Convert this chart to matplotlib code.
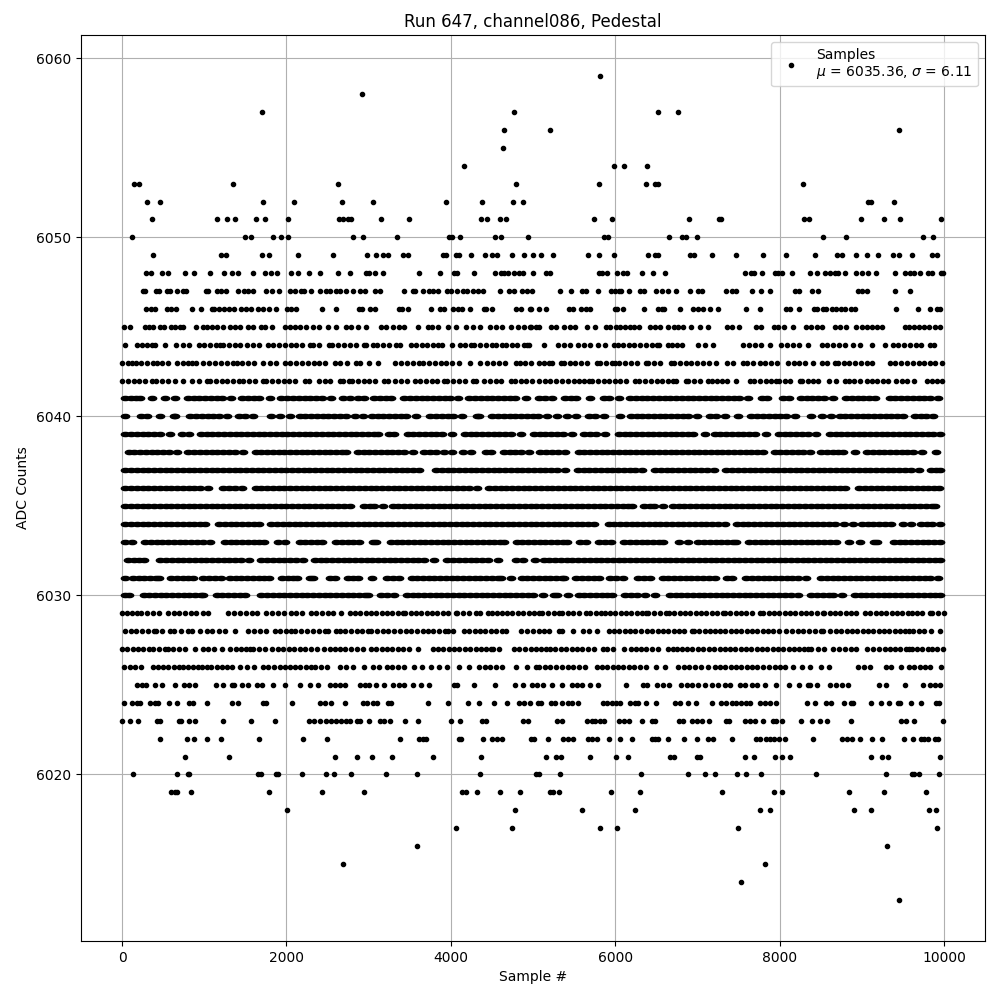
import numpy as np
import matplotlib
matplotlib.use("Agg")
import matplotlib.pyplot as plt
from matplotlib.markers import MarkerStyle
from matplotlib.transforms import Affine2D

# sample numbers, one list per ADC level
s_6013 = [9449]
s_6014 = [7535]
s_6015 = [2687, 7826]
s_6016 = [3583, 9305]
s_6017 = [4068, 4747, 5814, 6020, 7499, 9917]
s_6018 = [2008, 4783, 5596, 6238, 7766, 7887, 8900, 9110, 9815, 9900]
s_6019 = [590, 640, 667, 844, 1790, 2432, 2941, 4141, 4181, 4323, 4601, 4844, 5212, 5240, 5317, 5947, 6299, 7293, 7935, 8032, 8840, 9265, 9780]
s_6020 = [129, 663, 796, 820, 1656, 1685, 1875, 1899, 2190, 2481, 2578, 2784, 3208, 3583, 4359, 5042, 5070, 5329, 6311, 6881, 7087, 7208, 7487, 7596, 7778, 8440, 9290, 9605, 9640, 9690, 9945]
s_6021 = [760, 1305, 2590, 2856, 3038, 3280, 3777, 4371, 5160, 5281, 5342, 5693, 6008, 6153, 6663, 6711, 6993, 7026, 7580, 7689, 7947, 8032, 8130, 9110, 9245, 9320, 9950]
s_6022 = [457, 784, 869, 1038, 1208, 1669, 2202, 2493, 3377, 3608, 3656, 3697, 4100, 4120, 4396, 4505, 4565, 4626, 4970, 5010, 5184, 5366, 5422, 5487, 5669, 5717, 5778, 5927, 6057, 6210, 6444, 6485, 6525, 6638, 6832, 6990, 7123, 7184, 7426, 7717, 7766, 7830, 7879, 7927, 7988, 8069, 8411, 8753, 8815, 8875, 8973, 9120, 9240, 9510, 9620, 9715, 9755, 9800, 9895, 9930]
s_6023 = [0, 93, 190, 424, 465, 687, 715, 808, 881, 1232, 1572, 1862, 2275, 2331, 2404, 2485, 2545, 2606, 2658, 2727, 2776, 2856, 2889, 3002, 3139, 3192, 3264, 3438, 3596, 3996, 4117, 4384, 4432, 4880, 4941, 5293, 5354, 5657, 5717, 5758, 5818, 5859, 6040, 6101, 6166, 6323, 6452, 6485, 6780, 6820, 6929, 6990, 7050, 7135, 7353, 7385, 7576, 7636, 7697, 7802, 7920, 7960, 8032, 8264, 8398, 8496, 8578, 8863, 9475, 9535, 9640, 9985]
s_6024 = [20, 121, 182, 222, 335, 404, 436, 574, 663, 820, 861, 1038, 1341, 1414, 1709, 1757, 2068, 2412, 2464, 2537, 2711, 2929, 2982, 3050, 3103, 3232, 3272, 3717, 3971, 4214, 4347, 4529, 4686, 4828, 4888, 4957, 5060, 5099, 5224, 5273, 5354, 5422, 5475, 5548, 5846, 5899, 5960, 6008, 6061, 6178, 6242, 6283, 6372, 6497, 6727, 6788, 6881, 6978, 7172, 7281, 7353, 7422, 7475, 7535, 7596, 7636, 7766, 7818, 7879, 7960, 8338, 8436, 8570, 8630, 8780, 8865, 8895, 9110, 9230, 9330, 9440, 9470, 9600, 9720, 9900, 9945]
s_6025 = [182, 242, 295, 396, 481, 638, 755, 820, 893, 1143, 1224, 1333, 1361, 1454, 1535, 1636, 1697, 1838, 1984, 2165, 2287, 2380, 2525, 2586, 2646, 2707, 2897, 2961, 3010, 3091, 3192, 3293, 3373, 3434, 3543, 3636, 3737, 4040, 4080, 4286, 4541, 4779, 4880, 4989, 5050, 5123, 5232, 5354, 5475, 5535, 5596, 5697, 5790, 6133, 6343, 6384, 6505, 6578, 6654, 6800, 6869, 6937, 7010, 7091, 7172, 7252, 7333, 7394, 7515, 7584, 7664, 7725, 7826, 7951, 8110, 8240, 8340, 8375, 8450, 8610, 8690, 8755, 8830, 9215, 9300, 9525, 9740, 9830, 9890, 9950]
s_6026 = [28, 95, 162, 226, 376, 440, 500, 553, 626, 687, 739, 800, 860, 920, 975, 1030, 1079, 1151, 1212, 1272, 1333, 1434, 1515, 1600, 1717, 1780, 1850, 1919, 1988, 2040, 2105, 2170, 2235, 2303, 2343, 2424, 2497, 2646, 2725, 2808, 2949, 3050, 3131, 3220, 3290, 3360, 3434, 3555, 3655, 3757, 3858, 3959, 4097, 4226, 4343, 4410, 4480, 4555, 4626, 4795, 4929, 5030, 5071, 5140, 5210, 5280, 5350, 5420, 5490, 5560, 5636, 5778, 5840, 5905, 5970, 6035, 6100, 6165, 6230, 6300, 6376, 6493, 6602, 6768, 6835, 6900, 6970, 7040, 7131, 7212, 7275, 7340, 7405, 7470, 7535, 7600, 7665, 7730, 7800, 7870, 7939, 8000, 8060, 8163, 8272, 8375, 8505, 8595, 8950, 9025, 9100, 9290, 9350, 9480, 9570, 9640, 9705, 9770, 9830, 9960]
s_6027 = [0, 65, 130, 195, 260, 323, 376, 450, 525, 554, 625, 695, 768, 893, 982, 1050, 1119, 1220, 1313, 1380, 1445, 1510, 1555, 1596, 1665, 1735, 1830, 1899, 1959, 2025, 2090, 2160, 2230, 2303, 2376, 2456, 2525, 2586, 2646, 2707, 2780, 2855, 2929, 3030, 3095, 3160, 3225, 3290, 3355, 3420, 3490, 3596, 3777, 3845, 3910, 3975, 4040, 4105, 4170, 4235, 4300, 4365, 4425, 4484, 4513, 4585, 4767, 4830, 4900, 4970, 5030, 5095, 5160, 5212, 5273, 5340, 5405, 5470, 5535, 5600, 5669, 5745, 5847, 5905, 5968, 6101, 6194, 6250, 6315, 6380, 6444, 6525, 6638, 6700, 6755, 6808, 6875, 6940, 7005, 7070, 7135, 7200, 7270, 7341, 7394, 7460, 7525, 7590, 7655, 7720, 7785, 7850, 7915, 7980, 8045, 8110, 8175, 8240, 8295, 8344, 8385, 8465, 8545, 8650, 8720, 8795, 8870, 8935, 9060, 9140, 9210, 9280, 9340, 9405, 9470, 9535, 9575, 9605, 9670, 9735, 9800, 9860, 9915, 9985]
s_6028 = [40, 109, 175, 240, 310, 384, 416, 490, 578, 634, 715, 796, 848, 949, 1030, 1100, 1175, 1252, 1378, 1535, 1605, 1680, 1749, 1858, 1925, 1990, 2050, 2101, 2182, 2250, 2320, 2395, 2472, 2505, 2606, 2646, 2715, 2785, 2855, 2925, 2990, 3030, 3100, 3170, 3240, 3310, 3380, 3450, 3520, 3590, 3660, 3717, 3786, 3860, 3925, 3971, 4028, 4161, 4225, 4290, 4351, 4416, 4485, 4555, 4618, 4674, 4848, 4929, 4997, 5070, 5130, 5192, 5313, 5354, 5487, 5608, 5685, 5778, 5919, 5985, 6050, 6115, 6180, 6245, 6311, 6384, 6450, 6515, 6580, 6645, 6710, 6775, 6840, 6929, 6957, 7025, 7090, 7151, 7212, 7272, 7340, 7405, 7470, 7535, 7600, 7665, 7730, 7795, 7860, 7919, 7988, 8081, 8150, 8220, 8290, 8360, 8430, 8500, 8533, 8618, 8685, 8750, 8815, 8880, 8945, 9010, 9075, 9140, 9205, 9270, 9335, 9400, 9465, 9530, 9575, 9628, 9695, 9760, 9845, 9950]
s_6029 = [0, 60, 120, 182, 234, 305, 375, 445, 553, 626, 695, 765, 835, 905, 980, 1050, 1293, 1365, 1435, 1505, 1575, 1644, 1757, 1825, 1895, 1965, 2060, 2121, 2190, 2303, 2363, 2430, 2500, 2570, 2666, 2767, 2835, 2900, 2965, 3030, 3095, 3160, 3225, 3290, 3355, 3414, 3446, 3510, 3575, 3640, 3705, 3770, 3835, 3900, 3965, 4060, 4080, 4150, 4225, 4303, 4351, 4456, 4505, 4565, 4626, 4686, 4750, 4815, 4880, 4945, 5010, 5070, 5111, 5180, 5250, 5313, 5354, 5420, 5490, 5560, 5644, 5697, 5765, 5830, 5870, 5935, 6000, 6065, 6130, 6195, 6260, 6325, 6372, 6404, 6470, 6540, 6614, 6654, 6720, 6785, 6850, 6915, 6980, 7045, 7110, 7175, 7240, 7313, 7333, 7400, 7465, 7530, 7595, 7660, 7757, 7798, 7865, 7930, 7995, 8060, 8125, 8190, 8255, 8320, 8385, 8450, 8525, 8545, 8610, 8675, 8740, 8805, 8870, 8930, 9040, 9105, 9170, 9235, 9300, 9365, 9430, 9495, 9565, 9605, 9670, 9735, 9830, 9860, 9930, 9999]
s_6030 = [40, 90, 262, 330, 400, 470, 540, 610, 680, 750, 820, 890, 960, 990, 1151, 1220, 1290, 1360, 1430, 1495, 1696, 1765, 1835, 1905, 1975, 2045, 2115, 2185, 2255, 2325, 2395, 2465, 2535, 2605, 2675, 2745, 2815, 2885, 2955, 2990, 3151, 3220, 3313, 3466, 3535, 3605, 3675, 3745, 3815, 3885, 3955, 4025, 4095, 4165, 4235, 4305, 4375, 4445, 4515, 4585, 4655, 4725, 4795, 4865, 4935, 5002, 5123, 5252, 5294, 5426, 5555, 5625, 5695, 5765, 5835, 5905, 5960, 6120, 6190, 6260, 6364, 6485, 6666, 6735, 6805, 6875, 6945, 7015, 7085, 7155, 7225, 7295, 7365, 7435, 7505, 7575, 7645, 7715, 7785, 7855, 7925, 7995, 8065, 8135, 8220, 8385, 8455, 8525, 8595, 8650, 8760, 8915, 8985, 9055, 9125, 9195, 9265, 9335, 9405, 9475, 9545, 9615, 9685, 9755, 9825, 9895, 9955]
s_6031 = [40, 130, 200, 270, 340, 410, 445, 597, 665, 735, 805, 857, 990, 1063, 1131, 1204, 1312, 1380, 1450, 1520, 1590, 1660, 1730, 1786, 1947, 2015, 2085, 2134, 2282, 2324, 2524, 2586, 2746, 2815, 2869, 3045, 3223, 3300, 3374, 3522, 3590, 3660, 3730, 3800, 3870, 3940, 4010, 4080, 4150, 4220, 4290, 4360, 4430, 4500, 4570, 4606, 4735, 4860, 4930, 5000, 5070, 5140, 5210, 5280, 5350, 5374, 5527, 5600, 5670, 5740, 5799, 5939, 6010, 6093, 6282, 6350, 6417, 6577, 6645, 6715, 6785, 6855, 6925, 6995, 7065, 7135, 7212, 7361, 7415, 7595, 7665, 7735, 7805, 7875, 7945, 8015, 8085, 8155, 8225, 8315, 8505, 8575, 8645, 8715, 8785, 8855, 8925, 8995, 9065, 9135, 9205, 9275, 9345, 9415, 9485, 9555, 9625, 9695, 9765, 9835, 9930]
s_6032 = [72, 140, 200, 263, 464, 535, 605, 675, 745, 815, 885, 955, 1025, 1095, 1165, 1235, 1305, 1375, 1445, 1544, 1696, 1765, 1835, 1905, 1975, 2045, 2115, 2202, 2343, 2415, 2485, 2555, 2625, 2695, 2765, 2835, 2905, 2975, 3045, 3115, 3185, 3255, 3325, 3395, 3465, 3535, 3605, 3675, 3798, 3958, 4030, 4100, 4170, 4240, 4310, 4380, 4450, 4574, 4787, 4881, 5020, 5130, 5200, 5270, 5340, 5410, 5480, 5550, 5620, 5690, 5760, 5830, 5900, 5970, 6040, 6110, 6180, 6250, 6320, 6390, 6460, 6530, 6600, 6670, 6740, 6810, 6880, 6950, 7020, 7090, 7160, 7230, 7300, 7370, 7440, 7510, 7580, 7650, 7720, 7790, 7860, 7930, 8000, 8070, 8140, 8210, 8280, 8350, 8420, 8490, 8560, 8630, 8700, 8770, 8840, 8910, 8980, 9050, 9120, 9190, 9260, 9330, 9400, 9470, 9540, 9610, 9680, 9750, 9820, 9890, 9955]
s_6033 = [40, 122, 282, 350, 420, 490, 560, 630, 700, 770, 840, 910, 980, 1071, 1252, 1320, 1390, 1460, 1530, 1600, 1670, 1730, 1898, 1988, 2161, 2230, 2300, 2370, 2433, 2605, 2675, 2745, 2815, 2877, 3050, 3091, 3272, 3340, 3410, 3480, 3550, 3620, 3690, 3760, 3830, 3900, 3970, 4040, 4110, 4180, 4250, 4320, 4390, 4460, 4530, 4600, 4647, 4799, 4870, 4940, 5010, 5080, 5150, 5220, 5290, 5360, 5415, 5567, 5645, 5797, 5870, 5948, 6108, 6180, 6250, 6320, 6390, 6460, 6530, 6578, 6777, 6881, 7009, 7080, 7150, 7220, 7290, 7360, 7430, 7475, 7627, 7700, 7770, 7840, 7910, 7980, 8050, 8120, 8190, 8260, 8330, 8400, 8470, 8540, 8610, 8690, 8845, 8975, 9145, 9190, 9390, 9460, 9530, 9600, 9670, 9740, 9810, 9880, 9955]
s_6034 = [40, 110, 180, 250, 320, 390, 460, 530, 600, 670, 740, 810, 880, 950, 1011, 1179, 1250, 1320, 1390, 1460, 1530, 1600, 1665, 1817, 1890, 1960, 2030, 2100, 2170, 2240, 2310, 2380, 2450, 2520, 2590, 2660, 2730, 2800, 2870, 2940, 3010, 3080, 3150, 3220, 3290, 3360, 3430, 3500, 3570, 3640, 3710, 3780, 3850, 3920, 3990, 4060, 4130, 4200, 4270, 4340, 4410, 4480, 4550, 4620, 4690, 4760, 4830, 4900, 4970, 5040, 5110, 5180, 5250, 5320, 5390, 5460, 5530, 5600, 5670, 5738, 5919, 5990, 6060, 6130, 6200, 6270, 6340, 6410, 6480, 6550, 6620, 6690, 6760, 6830, 6900, 6970, 7040, 7110, 7180, 7250, 7334, 7482, 7550, 7620, 7690, 7760, 7830, 7900, 7970, 8040, 8110, 8180, 8250, 8320, 8390, 8460, 8530, 8600, 8670, 8788, 8890, 9000, 9070, 9140, 9210, 9280, 9360, 9500, 9600, 9720, 9790, 9860, 9955]
s_6035 = [40, 110, 180, 250, 320, 390, 460, 530, 600, 670, 740, 810, 880, 950, 1020, 1090, 1160, 1230, 1300, 1370, 1440, 1510, 1580, 1650, 1720, 1790, 1860, 1930, 2000, 2070, 2140, 2210, 2280, 2350, 2420, 2490, 2560, 2630, 2700, 2768, 2949, 3020, 3071, 3171, 3292, 3360, 3430, 3500, 3570, 3640, 3710, 3780, 3850, 3920, 3990, 4060, 4130, 4200, 4270, 4340, 4410, 4480, 4550, 4620, 4690, 4760, 4830, 4900, 4970, 5040, 5110, 5180, 5250, 5320, 5390, 5460, 5530, 5600, 5670, 5740, 5810, 5880, 5950, 6020, 6090, 6160, 6202, 6350, 6420, 6473, 6578, 6698, 6770, 6840, 6910, 6980, 7050, 7120, 7190, 7260, 7330, 7400, 7470, 7540, 7610, 7680, 7750, 7820, 7890, 7960, 8030, 8100, 8170, 8240, 8310, 8380, 8450, 8520, 8590, 8660, 8730, 8800, 8870, 8940, 9010, 9080, 9150, 9220, 9290, 9360, 9430, 9500, 9570, 9640, 9710, 9780, 9850, 9895]
s_6036 = [40, 110, 180, 250, 320, 390, 460, 530, 600, 670, 740, 810, 880, 950, 1051, 1232, 1300, 1370, 1455, 1624, 1695, 1765, 1835, 1905, 1975, 2045, 2115, 2185, 2255, 2325, 2395, 2465, 2535, 2605, 2675, 2745, 2815, 2885, 2955, 3025, 3095, 3165, 3235, 3305, 3375, 3445, 3515, 3585, 3655, 3725, 3795, 3865, 3935, 4005, 4075, 4145, 4215, 4315, 4464, 4535, 4605, 4675, 4745, 4815, 4885, 4955, 5025, 5095, 5165, 5235, 5305, 5375, 5445, 5515, 5585, 5655, 5725, 5795, 5865, 5935, 6005, 6075, 6145, 6215, 6285, 6355, 6425, 6495, 6565, 6635, 6705, 6775, 6845, 6915, 6985, 7055, 7125, 7195, 7265, 7335, 7405, 7475, 7545, 7615, 7685, 7755, 7825, 7895, 7965, 8035, 8105, 8175, 8245, 8315, 8385, 8455, 8525, 8595, 8665, 8735, 8800, 8970, 9040, 9110, 9180, 9250, 9320, 9390, 9460, 9530, 9600, 9670, 9740, 9810, 9880, 9935]
s_6037 = [40, 110, 180, 250, 320, 390, 460, 530, 600, 670, 740, 810, 880, 950, 1020, 1090, 1160, 1230, 1300, 1370, 1440, 1510, 1580, 1650, 1720, 1790, 1860, 1930, 2000, 2070, 2140, 2210, 2280, 2350, 2420, 2490, 2560, 2630, 2700, 2770, 2840, 2910, 2980, 3050, 3120, 3190, 3260, 3330, 3400, 3470, 3540, 3616, 3817, 3890, 3960, 4030, 4100, 4170, 4240, 4310, 4380, 4450, 4520, 4590, 4660, 4730, 4800, 4870, 4940, 5010, 5080, 5150, 5220, 5290, 5394, 5543, 5615, 5685, 5755, 5825, 5895, 5965, 6035, 6105, 6175, 6245, 6324, 6484, 6555, 6625, 6695, 6765, 6835, 6905, 6975, 7045, 7115, 7200, 7353, 7425, 7495, 7565, 7635, 7705, 7775, 7845, 7915, 7985, 8055, 8125, 8195, 8265, 8335, 8405, 8475, 8545, 8615, 8685, 8755, 8825, 8895, 8965, 9035, 9105, 9175, 9245, 9315, 9385, 9455, 9525, 9595, 9697, 9845, 9900, 9955]
s_6038 = [80, 150, 220, 290, 360, 430, 500, 570, 667, 807, 880, 950, 1020, 1090, 1160, 1230, 1300, 1370, 1475, 1624, 1695, 1765, 1835, 1905, 1975, 2045, 2115, 2185, 2255, 2325, 2395, 2465, 2535, 2605, 2675, 2728, 2868, 2940, 3010, 3080, 3150, 3220, 3290, 3360, 3430, 3536, 3676, 3750, 3819, 3919, 4020, 4152, 4243, 4423, 4485, 4645, 4715, 4785, 4855, 4950, 5090, 5160, 5230, 5300, 5394, 5555, 5625, 5695, 5765, 5835, 5905, 5975, 6045, 6115, 6185, 6255, 6325, 6395, 6465, 6535, 6605, 6675, 6745, 6815, 6885, 6955, 7025, 7095, 7165, 7235, 7305, 7375, 7445, 7515, 7585, 7655, 7725, 7798, 7939, 8010, 8080, 8150, 8220, 8290, 8364, 8504, 8575, 8645, 8715, 8768, 8919, 9065, 9135, 9205, 9275, 9345, 9415, 9485, 9555, 9625, 9730, 9900]
s_6039 = [40, 110, 180, 250, 320, 390, 460, 586, 727, 809, 961, 1030, 1100, 1170, 1240, 1310, 1380, 1450, 1520, 1590, 1660, 1730, 1800, 1870, 1940, 2010, 2080, 2150, 2220, 2290, 2360, 2430, 2500, 2570, 2640, 2710, 2780, 2850, 2920, 2990, 3060, 3111, 3252, 3313, 3474, 3545, 3615, 3685, 3755, 3825, 3895, 4020, 4168, 4240, 4310, 4380, 4450, 4520, 4590, 4660, 4730, 4849, 5009, 5080, 5150, 5220, 5290, 5360, 5475, 5616, 5690, 5760, 5879, 6044, 6115, 6185, 6255, 6325, 6395, 6465, 6535, 6605, 6675, 6745, 6815, 6885, 6950, 7091, 7211, 7280, 7350, 7420, 7490, 7560, 7630, 7700, 7831, 7987, 8060, 8130, 8200, 8270, 8340, 8440, 8610, 8680, 8750, 8820, 8890, 8960, 9030, 9100, 9170, 9240, 9310, 9380, 9450, 9520, 9590, 9660, 9730, 9800, 9870, 9955]
s_6040 = [40, 234, 300, 465, 626, 647, 828, 900, 970, 1040, 1110, 1180, 1273, 1421, 1490, 1596, 1817, 1920, 2044, 2161, 2230, 2300, 2370, 2440, 2510, 2580, 2650, 2720, 2829, 2929, 3037, 3110, 3180, 3250, 3320, 3390, 3460, 3576, 3749, 3820, 3890, 3960, 4030, 4134, 4322, 4344, 4504, 4575, 4645, 4715, 4785, 4855, 4925, 4995, 5065, 5172, 5293, 5414, 5528, 5676, 5750, 5867, 6053, 6189, 6260, 6330, 6400, 6470, 6540, 6610, 6680, 6750, 6820, 6890, 6990, 7151, 7220, 7334, 7497, 7656, 7730, 7800, 7870, 7940, 8010, 8080, 8184, 8385, 8510, 8630, 8730, 8800, 8870, 8940, 9010, 9080, 9150, 9220, 9290, 9360, 9430, 9505, 9645, 9715, 9785, 9870]
s_6041 = [40, 110, 170, 223, 364, 525, 647, 799, 870, 940, 1010, 1080, 1150, 1220, 1326, 1462, 1530, 1600, 1670, 1798, 1939, 2010, 2080, 2150, 2220, 2290, 2360, 2430, 2538, 2686, 2768, 2868, 2949, 3070, 3140, 3210, 3273, 3433, 3505, 3575, 3645, 3715, 3785, 3855, 3925, 3995, 4081, 4221, 4295, 4365, 4435, 4505, 4575, 4645, 4715, 4785, 4909, 5070, 5140, 5233, 5394, 5465, 5528, 5697, 5858, 5930, 6041, 6181, 6250, 6320, 6390, 6460, 6530, 6600, 6670, 6740, 6810, 6880, 6950, 7020, 7090, 7160, 7230, 7300, 7370, 7440, 7510, 7617, 7786, 7850, 8040, 8110, 8262, 8330, 8400, 8470, 8540, 8650, 8810, 8880, 8950, 9020, 9090, 9155, 9340, 9410, 9480, 9550, 9620, 9690, 9760, 9830, 9930]
s_6042 = [0, 70, 140, 210, 280, 364, 412, 485, 555, 646, 747, 856, 930, 1030, 1070, 1140, 1210, 1280, 1350, 1420, 1475, 1547, 1620, 1717, 1757, 1825, 1895, 1965, 2035, 2105, 2222, 2275, 2396, 2465, 2535, 2646, 2686, 2760, 2800, 2870, 2940, 3010, 3080, 3192, 3232, 3325, 3395, 3465, 3563, 3624, 3695, 3765, 3835, 3919, 3959, 4030, 4100, 4170, 4270, 4310, 4404, 4475, 4545, 4615, 4727, 4779, 4850, 4920, 4990, 5070, 5140, 5210, 5280, 5350, 5420, 5495, 5556, 5620, 5677, 5717, 5790, 5860, 5919, 5992, 6060, 6130, 6242, 6295, 6364, 6435, 6505, 6575, 6645, 6707, 6735, 6856, 6889, 6960, 7030, 7131, 7172, 7240, 7301, 7361, 7467, 7636, 7689, 7760, 7830, 7900, 7960, 7988, 8060, 8130, 8244, 8272, 8340, 8410, 8468, 8605, 8680, 8790, 8840, 8910, 8980, 9065, 9120, 9190, 9260, 9315, 9415, 9485, 9555, 9630, 9790, 9860, 9915, 9970]
s_6043 = [0, 70, 121, 174, 230, 300, 370, 424, 485, 555, 667, 739, 796, 848, 901, 990, 1063, 1135, 1205, 1275, 1345, 1394, 1462, 1535, 1605, 1717, 1798, 1870, 1980, 2048, 2120, 2190, 2260, 2330, 2400, 2470, 2586, 2646, 2735, 2840, 2897, 3010, 3119, 3325, 3395, 3465, 3535, 3616, 3664, 3735, 3805, 3878, 3947, 4020, 4100, 4230, 4351, 4444, 4515, 4585, 4655, 4787, 4836, 4908, 4980, 5070, 5130, 5192, 5232, 5341, 5374, 5445, 5515, 5585, 5655, 5778, 5810, 5885, 5960, 6000, 6048, 6120, 6190, 6260, 6376, 6404, 6475, 6545, 6675, 6715, 6785, 6855, 6922, 6998, 7070, 7140, 7232, 7361, 7430, 7555, 7608, 7680, 7757, 7826, 7899, 7970, 8101, 8170, 8240, 8310, 8404, 8510, 8580, 8670, 8710, 8780, 8850, 8920, 8990, 9060, 9130, 9340, 9410, 9480, 9550, 9620, 9690, 9760, 9830, 9890, 9970]
s_6044 = [32, 180, 240, 300, 360, 404, 517, 660, 740, 816, 930, 1000, 1070, 1140, 1190, 1230, 1300, 1370, 1440, 1515, 1596, 1665, 1780, 1838, 1910, 1980, 2060, 2117, 2190, 2283, 2323, 2395, 2513, 2557, 2630, 2700, 2770, 2840, 2940, 2970, 3058, 3103, 3175, 3245, 3333, 3381, 3515, 3575, 3645, 3715, 3785, 3838, 3890, 4020, 4110, 4173, 4242, 4282, 4355, 4425, 4505, 4545, 4626, 4666, 4740, 4810, 4888, 4929, 4950, 5135, 5305, 5374, 5454, 5547, 5620, 5697, 5786, 5879, 5980, 6032, 6100, 6170, 6230, 6303, 6375, 6445, 6505, 6537, 6646, 6687, 6755, 6816, 7002, 7091, 7184, 7551, 7625, 7695, 7770, 7879, 8020, 8090, 8160, 8240, 8340, 8510, 8580, 8650, 8720, 8790, 8895, 8975, 9130, 9280, 9385, 9445, 9515, 9585, 9655, 9725, 9830, 9880]
s_6045 = [28, 100, 283, 323, 376, 465, 513, 594, 646, 707, 747, 897, 982, 1038, 1091, 1160, 1224, 1313, 1374, 1434, 1527, 1588, 1685, 1737, 1830, 1988, 2040, 2101, 2161, 2242, 2323, 2396, 2505, 2598, 2719, 2788, 2868, 2970, 3151, 3212, 3293, 3373, 3434, 3596, 3717, 3770, 3838, 3971, 4060, 4189, 4274, 4359, 4473, 4545, 4626, 4727, 4820, 4888, 4957, 4970, 5030, 5070, 5220, 5281, 5374, 5454, 5515, 5657, 5754, 5887, 5939, 6008, 6061, 6121, 6182, 6234, 6295, 6424, 6485, 6545, 6638, 6715, 6768, 6828, 6917, 7030, 7123, 7365, 7426, 7511, 7709, 7778, 7927, 7980, 8049, 8163, 8325, 8385, 8460, 8510, 8670, 8730, 8810, 8935, 8997, 9060, 9120, 9180, 9240, 9525, 9575, 9635, 9695, 9755, 9820, 9890, 9950]
s_6046 = [295, 351, 404, 545, 594, 659, 856, 957, 1091, 1119, 1184, 1240, 1305, 1361, 1450, 1507, 1563, 1656, 1717, 1782, 1875, 2008, 2060, 2121, 2432, 2602, 2880, 2921, 3018, 3082, 3373, 3400, 3474, 3757, 3866, 3919, 4032, 4092, 4141, 4238, 4404, 4432, 4505, 4795, 4848, 4965, 4970, 5075, 5152, 5442, 5483, 5580, 5644, 5693, 6000, 6020, 6093, 6347, 6525, 6566, 6598, 6784, 6941, 7002, 7062, 7147, 7256, 7596, 7766, 8081, 8122, 8240, 8420, 8460, 8530, 8570, 8640, 8690, 8745, 8790, 8865, 8915, 9420, 9680, 9835, 9915, 9955]
s_6047 = [250, 283, 412, 444, 545, 586, 663, 747, 780, 1018, 1050, 1151, 1200, 1269, 1414, 1487, 1535, 1596, 1757, 1818, 1907, 2044, 2105, 2182, 2210, 2299, 2404, 2477, 2533, 2606, 2646, 2723, 2808, 2897, 2953, 3074, 3139, 3426, 3535, 3567, 3656, 3737, 3786, 3838, 3959, 4000, 4076, 4153, 4202, 4274, 4335, 4392, 4601, 4711, 4771, 4860, 4929, 4990, 5329, 5463, 5596, 5644, 5790, 5943, 6000, 6040, 6069, 6166, 6303, 6355, 6493, 6566, 6638, 6735, 6905, 7002, 7050, 7353, 7426, 7467, 7669, 7778, 7887, 8183, 8232, 8395, 8468, 8950, 8997, 9062, 9400, 9590]
s_6048 = [295, 351, 481, 553, 760, 877, 1075, 1244, 1341, 1414, 1596, 1741, 1814, 1879, 2056, 2141, 2270, 2408, 2626, 2771, 2970, 3000, 3074, 3171, 3608, 3862, 4040, 4080, 4286, 4533, 4605, 4646, 4700, 4771, 4828, 4880, 5000, 5160, 5212, 5802, 5840, 5900, 6020, 6093, 6141, 6323, 6456, 6602, 7584, 7656, 7690, 7790, 7940, 7980, 8030, 8155, 8375, 8450, 8550, 8610, 8670, 8710, 8790, 8935, 8997, 9070, 9170, 9400, 9520, 9585, 9640, 9705, 9810, 9850, 9965, 9985]
s_6049 = [372, 1208, 1269, 1705, 1790, 2141, 2565, 2977, 3087, 3171, 3232, 3414, 3474, 3899, 3947, 4068, 4100, 4250, 4420, 4505, 4565, 4747, 4888, 4997, 5099, 5245, 5669, 5802, 5984, 6396, 6485, 6517, 6913, 6957, 7172, 7475, 7802, 8081, 8436, 8700, 8760, 8925, 9060, 9200, 9380, 9450, 9610, 9855, 9915]
s_6050 = [117, 1499, 1572, 1838, 1935, 2020, 2808, 2929, 3341, 3980, 4020, 4117, 4541, 4614, 4941, 5859, 5911, 6650, 6816, 6856, 6990, 8530, 8810, 9750, 9870]
s_6051 = [360, 1160, 1280, 1378, 1632, 1741, 2020, 2634, 2686, 2747, 2780, 3147, 3487, 4371, 4444, 4601, 4666, 5741, 5960, 6893, 7260, 7285, 8295, 8360, 8985, 9265, 9460, 9960]
s_6052 = [303, 457, 1717, 2093, 2674, 3050, 3935, 4383, 4759, 4880, 9080, 9110, 9390]
s_6053 = [150, 200, 1353, 2626, 4795, 5802, 6372, 6489, 6521, 8287]
s_6054 = [4165, 5984, 6105, 6384]
s_6055 = [4638]
s_6056 = [4650, 5208, 9450]
s_6057 = [1697, 4771, 6517, 6760]
s_6058 = [2917]
s_6059 = [5814]

# the crowded middle rows, drawn with a stretched dot so they close up as in the original
dense_levels = list(range(6030, 6042))
dense_samples = [s_6030, s_6031, s_6032, s_6033, s_6034, s_6035,
                 s_6036, s_6037, s_6038, s_6039, s_6040, s_6041]

sparse_levels = list(range(6013, 6030)) + list(range(6042, 6060))
sparse_samples = [s_6013, s_6014, s_6015, s_6016, s_6017, s_6018, s_6019, s_6020, s_6021,
                  s_6022, s_6023, s_6024, s_6025, s_6026, s_6027, s_6028, s_6029,
                  s_6042, s_6043, s_6044, s_6045, s_6046, s_6047, s_6048, s_6049, s_6050,
                  s_6051, s_6052, s_6053, s_6054, s_6055, s_6056, s_6057, s_6058, s_6059]

x = np.concatenate(sparse_samples)
y = np.repeat(sparse_levels, [len(s) for s in sparse_samples])
x_dense = np.concatenate(dense_samples)
y_dense = np.repeat(dense_levels, [len(s) for s in dense_samples])

fig, ax = plt.subplots(figsize=(10, 10), dpi=100)
ax.plot(x, y, 'k.', label='Samples\n$\\mu$ = 6035.36, $\\sigma$ = 6.11')
wide_dot = MarkerStyle('o', transform=Affine2D().scale(2, 1))
ax.plot(x_dense, y_dense, linestyle='none', color='k', marker=wide_dot, markersize=3)
ax.set_title('Run 647, channel086, Pedestal')
ax.set_xlabel('Sample #')
ax.set_ylabel('ADC Counts')
ax.grid(True)
ax.legend(loc='upper right')
fig.subplots_adjust(left=0.081, right=0.985, top=0.965, bottom=0.059)
fig.savefig('out.png')
